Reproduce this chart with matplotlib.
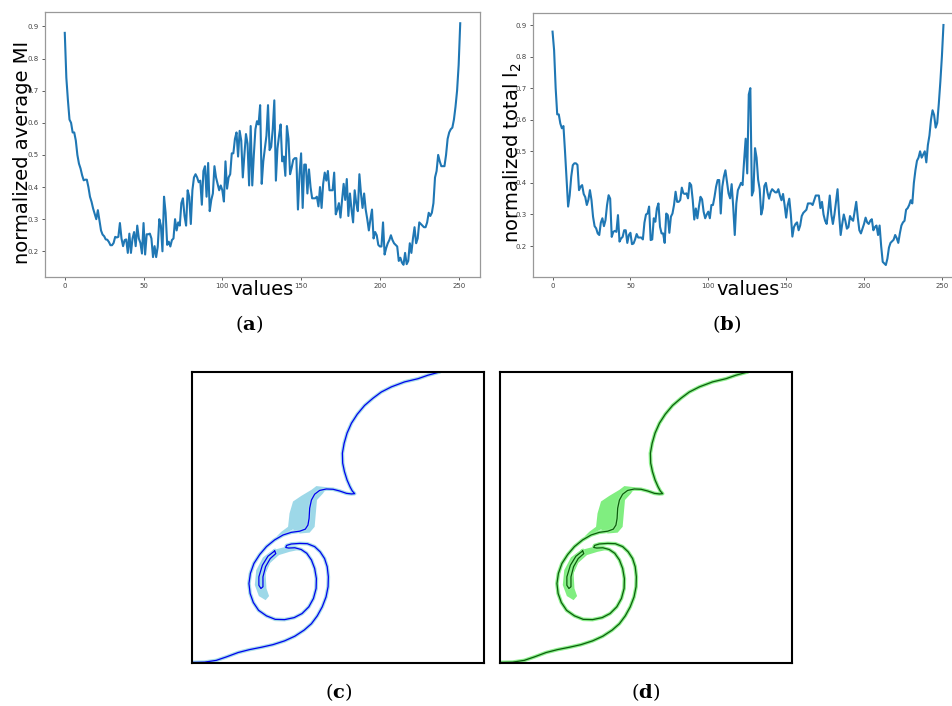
import matplotlib

matplotlib.use("Agg")
import matplotlib.pyplot as plt

# --- Data: top panels (index 0..251) ---
mi_values = [
    0.88, 0.74, 0.67, 0.61, 0.60, 0.57, 0.57, 0.545, 0.50, 0.473,
    0.458, 0.437, 0.421, 0.423, 0.423, 0.40, 0.37, 0.354, 0.333, 0.317,
    0.30, 0.328, 0.297, 0.265, 0.252, 0.247, 0.237, 0.236, 0.229, 0.219,
    0.219, 0.226, 0.245, 0.243, 0.245, 0.288, 0.24, 0.216, 0.235, 0.237,
    0.195, 0.255, 0.195, 0.24, 0.26, 0.216, 0.28, 0.24, 0.226, 0.193,
    0.288, 0.19, 0.253, 0.253, 0.255, 0.24, 0.182, 0.216, 0.182, 0.214,
    0.30, 0.28, 0.20, 0.37, 0.32, 0.22, 0.23, 0.215, 0.235, 0.24,
    0.30, 0.265, 0.29, 0.28, 0.35, 0.365, 0.31, 0.28, 0.39, 0.37,
    0.285, 0.39, 0.43, 0.44, 0.43, 0.415, 0.42, 0.345, 0.45, 0.465,
    0.37, 0.475, 0.325, 0.36, 0.38, 0.465, 0.43, 0.41, 0.39, 0.405,
    0.39, 0.355, 0.48, 0.395, 0.43, 0.44, 0.505, 0.505, 0.55, 0.57,
    0.495, 0.575, 0.545, 0.43, 0.50, 0.565, 0.535, 0.405, 0.59, 0.405,
    0.50, 0.58, 0.605, 0.595, 0.655, 0.41, 0.48, 0.52, 0.56, 0.655,
    0.515, 0.525, 0.58, 0.67, 0.42, 0.52, 0.56, 0.595, 0.48, 0.495,
    0.435, 0.59, 0.55, 0.44, 0.46, 0.485, 0.49, 0.49, 0.33, 0.44,
    0.505, 0.335, 0.47, 0.47, 0.38, 0.455, 0.40, 0.365, 0.365, 0.365,
    0.37, 0.34, 0.40, 0.335, 0.41, 0.445, 0.42, 0.45, 0.39, 0.39,
    0.39, 0.445, 0.315, 0.33, 0.35, 0.305, 0.36, 0.41, 0.36, 0.425,
    0.31, 0.38, 0.33, 0.29, 0.39, 0.35, 0.325, 0.44, 0.38, 0.335,
    0.38, 0.33, 0.30, 0.265, 0.30, 0.33, 0.24, 0.26, 0.25, 0.22,
    0.215, 0.215, 0.29, 0.19, 0.21, 0.225, 0.235, 0.25, 0.235, 0.225,
    0.22, 0.215, 0.17, 0.18, 0.165, 0.158, 0.195, 0.16, 0.17, 0.225,
    0.195, 0.24, 0.275, 0.225, 0.24, 0.29, 0.285, 0.28, 0.275, 0.275,
    0.29, 0.32, 0.31, 0.32, 0.35, 0.43, 0.45, 0.50, 0.48, 0.465,
    0.465, 0.465, 0.50, 0.55, 0.57, 0.58, 0.585, 0.61, 0.65, 0.70,
    0.78, 0.91,
]

l2_values = [
    0.879, 0.82, 0.70, 0.617, 0.617, 0.588, 0.573, 0.58, 0.50, 0.41,
    0.325, 0.36, 0.42, 0.456, 0.462, 0.462, 0.457, 0.377, 0.388, 0.393,
    0.365, 0.355, 0.33, 0.346, 0.377, 0.346, 0.293, 0.263, 0.256, 0.24,
    0.235, 0.274, 0.288, 0.263, 0.282, 0.33, 0.361, 0.35, 0.229, 0.245,
    0.248, 0.245, 0.298, 0.214, 0.224, 0.229, 0.25, 0.25, 0.21, 0.235,
    0.242, 0.206, 0.208, 0.221, 0.238, 0.227, 0.227, 0.227, 0.221, 0.274,
    0.30, 0.303, 0.325, 0.219, 0.221, 0.288, 0.277, 0.319, 0.335, 0.261,
    0.24, 0.24, 0.21, 0.303, 0.298, 0.242, 0.293, 0.303, 0.33, 0.372,
    0.34, 0.34, 0.346, 0.385, 0.367, 0.365, 0.367, 0.351, 0.40, 0.393,
    0.346, 0.284, 0.319, 0.288, 0.325, 0.356, 0.348, 0.309, 0.288, 0.30,
    0.309, 0.288, 0.33, 0.33, 0.356, 0.388, 0.409, 0.409, 0.303, 0.388,
    0.42, 0.44, 0.404, 0.367, 0.351, 0.396, 0.325, 0.235, 0.335, 0.377,
    0.388, 0.40, 0.393, 0.47, 0.54, 0.43, 0.68, 0.70, 0.36, 0.375,
    0.51, 0.48, 0.41, 0.38, 0.30, 0.32, 0.39, 0.40, 0.37, 0.35,
    0.37, 0.38, 0.375, 0.37, 0.37, 0.38, 0.36, 0.345, 0.365, 0.33,
    0.29, 0.33, 0.35, 0.30, 0.23, 0.26, 0.27, 0.275, 0.25, 0.265,
    0.295, 0.305, 0.31, 0.315, 0.335, 0.335, 0.335, 0.33, 0.345, 0.36,
    0.36, 0.36, 0.32, 0.34, 0.30, 0.28, 0.27, 0.31, 0.36, 0.30,
    0.27, 0.30, 0.34, 0.38, 0.30, 0.235, 0.27, 0.30, 0.28, 0.255,
    0.26, 0.295, 0.285, 0.28, 0.31, 0.34, 0.29, 0.25, 0.24, 0.255,
    0.27, 0.29, 0.275, 0.27, 0.28, 0.285, 0.25, 0.26, 0.265, 0.235,
    0.265, 0.20, 0.15, 0.145, 0.14, 0.16, 0.195, 0.21, 0.215, 0.22,
    0.235, 0.225, 0.21, 0.24, 0.265, 0.275, 0.28, 0.315, 0.32, 0.33,
    0.345, 0.335, 0.40, 0.44, 0.47, 0.48, 0.50, 0.48, 0.49, 0.50,
    0.465, 0.52, 0.55, 0.60, 0.63, 0.615, 0.575, 0.59, 0.65, 0.72,
    0.80, 0.90,
]

x_ticks = [0, 50, 100, 150, 200, 250]
y_ticks = [0.2, 0.3, 0.4, 0.5, 0.6, 0.7, 0.8, 0.9]

# --- Data: bottom panels (interface contour, box coords 0..100, y from top) ---
curve_u = [
    84.8, 80.8, 77.4, 72.8, 68.3, 64.8, 62.0, 59.1, 56.6, 54.6, 53.1, 52.1,
    51.5, 51.6, 52.2, 53.1, 54.1, 54.9, 55.7, 54.6, 52.9, 50.6, 48.3, 46.0,
    43.7, 42.0, 40.9, 40.3, 40.1, 39.7, 38.8, 36.9, 34.0, 31.2, 28.3, 25.5,
    23.2, 21.2, 20.0, 19.5, 19.9, 21.0, 22.8, 25.5, 28.5, 31.7, 35.0, 37.7,
    40.0, 41.6, 42.5, 42.6, 42.0, 40.9, 39.3, 37.4, 35.2, 33.1, 32.1, 32.4,
    34.0, 36.9, 39.5, 42.0, 43.9, 45.4, 46.3, 46.7, 46.6, 45.9, 44.6, 42.9,
    40.9, 38.4, 35.2, 31.7, 27.7, 23.7, 19.7, 15.8, 11.8, 8.3, 4.3, 0.0,
]
curve_v = [
    0.0, 1.1, 2.3, 3.4, 5.1, 6.9, 9.0, 11.5, 14.5, 17.6, 21.0, 24.5,
    27.9, 31.3, 34.2, 37.1, 39.4, 40.9, 41.8, 41.9, 41.7, 40.9, 40.3, 40.2,
    40.7, 42.0, 44.0, 46.8, 50.3, 52.6, 54.0, 54.7, 55.1, 56.0, 57.7, 60.0,
    62.7, 65.8, 69.2, 72.7, 76.1, 79.2, 81.9, 83.8, 85.0, 85.1, 84.4, 83.0,
    80.7, 77.8, 74.4, 71.0, 67.5, 64.6, 62.3, 61.0, 60.4, 60.5, 60.3, 59.6,
    59.1, 58.9, 59.0, 60.0, 61.8, 64.1, 66.9, 70.4, 73.8, 77.3, 80.7, 83.8,
    86.5, 88.7, 90.8, 92.4, 93.7, 94.6, 95.4, 96.4, 97.9, 99.1, 99.7, 99.8,
]

hairpin_u = [28.3, 26.0, 24.1, 22.9, 22.9, 23.6, 24.3, 24.3, 25.2, 26.8, 28.7, 28.3]
hairpin_v = [61.5, 63.3, 66.4, 70.4, 73.3, 74.4, 73.8, 70.4, 66.9, 64.1, 62.4, 61.5]

finger_u = [42.6, 46.2, 44.9, 42.8, 42.4, 42.0, 40.3, 36.9, 34.6, 31.2,
            28.9, 30.6, 32.9, 33.4, 34.6, 37.4, 40.9]
finger_v = [39.2, 39.6, 41.7, 44.0, 48.6, 53.2, 55.2, 55.5, 54.1, 55.7,
            56.6, 54.9, 53.2, 48.6, 44.5, 42.6, 40.5]

spiral_u = [35.2, 31.2, 27.7, 24.3, 22.0, 21.5, 22.9, 25.2, 26.4, 25.5,
            25.2, 26.8, 29.8, 33.4, 36.3]
spiral_v = [59.8, 60.3, 61.2, 63.7, 68.1, 73.2, 77.0, 78.4, 77.0, 74.4,
            69.2, 65.6, 62.9, 61.8, 61.2]

# --- Figure ---
W, H = 952, 706
fig = plt.figure(figsize=(W / 100, H / 100), dpi=100)


def px_axes(left, top, right, bottom):
    return fig.add_axes([left / W, 1 - bottom / H, (right - left) / W, (bottom - top) / H])


def line_panel(ax, values, ylim, ylabel, label_x):
    ax.plot(range(len(values)), values, color="#1f77b4", lw=1.5)
    ax.set_xlim(-12.55, 263.55)
    ax.set_ylim(*ylim)
    ax.set_xticks(x_ticks)
    ax.set_yticks(y_ticks)
    ax.tick_params(labelsize=5, colors="#444444", length=2.5, width=0.6, pad=2)
    for s in ax.spines.values():
        s.set_color("#999999")
        s.set_linewidth(0.9)
    ax.set_xlabel("values", fontsize=14, labelpad=-7)
    ax.set_ylabel(ylabel, fontsize=14)
    ax.yaxis.set_label_coords(label_x, 0.47)


ax_a = px_axes(45, 12, 480, 277)
line_panel(ax_a, mi_values, (0.12, 0.945), "normalized average MI", -0.03)

ax_b = px_axes(533, 13, 963, 277)
line_panel(ax_b, l2_values, (0.102, 0.938), "normalized total l$_2$", -0.021)


def contour_panel(ax, line_col, halo_col, fill_col):
    ax.fill(finger_u, finger_v, color=fill_col, lw=0)
    ax.fill(spiral_u, spiral_v, color=fill_col, lw=0)
    ax.plot(curve_u, curve_v, color=halo_col, lw=2.6, solid_capstyle="round")
    ax.plot(hairpin_u, hairpin_v, color=halo_col, lw=2.6)
    ax.plot(curve_u, curve_v, color=line_col, lw=0.9)
    ax.plot(hairpin_u, hairpin_v, color=line_col, lw=0.9)
    ax.set_xlim(0, 100)
    ax.set_ylim(100, 0)
    ax.set_xticks([])
    ax.set_yticks([])
    for s in ax.spines.values():
        s.set_color("black")
        s.set_linewidth(1.5)


ax_c = px_axes(192, 372, 484, 663)
contour_panel(ax_c, "#0000ee", "#a6dcea", "#9dd8e8")

ax_d = px_axes(500, 372, 792, 663)
contour_panel(ax_d, "#0b5e0b", "#8ef08e", "#80ee80")

# --- Sub-figure captions ---
plt.rcParams["mathtext.fontset"] = "dejavuserif"
for xp, yp, letter in [(249, 324, "a"), (727, 324, "b"), (339, 692, "c"), (646, 692, "d")]:
    fig.text(xp / W, 1 - yp / H, "(" + r"$\mathbf{" + letter + "}$" + ")",
             ha="center", va="center", fontsize=14, family="DejaVu Serif")

fig.savefig("out.png", dpi=100)
